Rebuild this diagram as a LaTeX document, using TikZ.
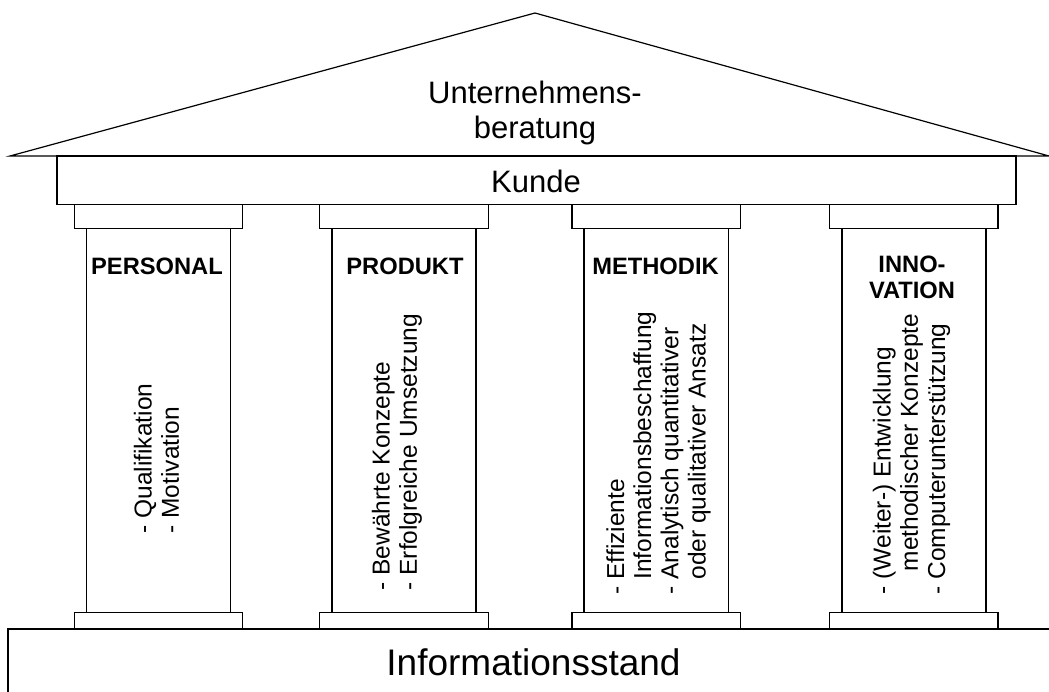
\documentclass[tikz,border=0pt]{standalone}
\usepackage{fontspec}
\setmainfont{Liberation Sans}
\usepackage{tikz}

\begin{document}
\begin{tikzpicture}[x=0.5pt,y=-0.5pt,line width=0.6pt,
    head/.style={inner sep=0pt,font=\bfseries\fontsize{11.85}{13.3}\selectfont},
    body/.style={rotate=90,anchor=west,align=left,inner sep=0pt,
      font=\fontsize{12.25}{13.6}\selectfont}]
                \useasboundingbox (0,0) rectangle (1049,691);
                \clip (0,0) rectangle (1049,691);
                % Dach und Gebaelk
                \draw (10,156) -- (535,13) -- (1049,156) -- cycle;
                \draw (57,156) rectangle (1016,204.5);
                \node[inner sep=0pt,align=center,font=\fontsize{15.5}{17.5}\selectfont] (roof) at (535,112.5) {Unternehmens-\\beratung};
                \node[inner sep=0pt,anchor=base,font=\fontsize{15.5}{17.5}\selectfont] (kunde) at (536,192) {Kunde};
                
                % Saeulen
                \draw (74.3,204.5) rectangle (242.7,228.3);
                \draw (319.7,204.5) rectangle (488.3,228.3);
                \draw (571.9,204.5) rectangle (740.5,228.3);
                \draw (829.4,204.5) rectangle (998,228.3);
                
                \draw (86.3,228.3) rectangle (230.7,612.3);
                \draw (332,228.3) rectangle (476,612.3);
                \draw (584,228.3) rectangle (728.5,612.3);
                \draw (842,228.3) rectangle (986,612.3);
                
                \draw (74.3,612.3) rectangle (242.7,629);
                \draw (319.7,612.3) rectangle (488.3,629);
                \draw (571.9,612.3) rectangle (740.5,629);
                \draw (829.4,612.3) rectangle (998,629);
                
                % Fundament
                \draw (8,629) rectangle (1060,700);
                \node[inner sep=0pt,anchor=base,font=\fontsize{18.5}{20}\selectfont] (stand) at (533.5,675) {Informationsstand};
                
                \node[head,anchor=base] (personal) at (157,274) {PERSONAL};
                \node[head,anchor=base] (produkt) at (405,274) {PRODUKT};
                \node[head,anchor=base] (methodik) at (655.5,274) {METHODIK};
                \node[head,anchor=north,align=center] (innovation) at (912,255) {INNO-\\VATION};
                
                \node[body] (personaltxt) at (156.5,534) {- Qualifikation\\- Motivation};
                \node[body] (produkttxt) at (397,591) {- Bew\"ahrte Konzepte\\- Erfolgreiche Umsetzung};
                \node[body] (methodiktxt) at (658.5,595) {- Effiziente\\\phantom{- }Informationsbeschaffung\\- Analytisch quantitativer\\\phantom{- }oder qualitativer Ansatz};
                \node[body] (innovationtxt) at (911.5,595) {- (Weiter-) Entwicklung\\\phantom{- (}methodischer Konzepte\\- Computerunterst\"utzung};
            \end{tikzpicture}
\end{document}
